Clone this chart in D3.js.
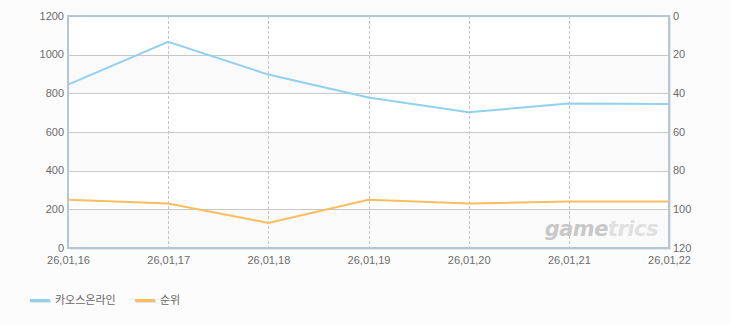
<!DOCTYPE html>
<html lang="ko">
<head>
<meta charset="UTF-8">
<script src="https://cdnjs.cloudflare.com/ajax/libs/d3/7.8.5/d3.min.js"></script>
<style>
  html, body { margin: 0; padding: 0; background: #fcfcfc; }
  svg { display: block; font-family: "Liberation Sans", "Noto Sans CJK KR", sans-serif; }
</style>
</head>
<body>
<div id="chart"></div>
<script>
// data
var dates = ["26,01,16", "26,01,17", "26,01,18", "26,01,19", "26,01,20", "26,01,21", "26,01,22"];
var users = [845, 1067, 897, 778, 702, 747, 745];
var ranks = [95, 97, 107, 95, 97, 96, 96];
var leftTicks = [0, 200, 400, 600, 800, 1000, 1200];
var rightTicks = [0, 20, 40, 60, 80, 100, 120];
var seriesNames = ["카오스온라인", "순위"];
var seriesColors = ["#92d0f0", "#fbbd5e"];

var W = 730, H = 325;
var margin = {top: 16, right: 61, bottom: 77, left: 68};
var w = W - margin.left - margin.right;
var h = H - margin.top - margin.bottom;

var svg = d3.select("#chart").append("svg")
  .attr("width", W).attr("height", H);

var g = svg.append("g")
  .attr("transform", "translate(" + margin.left + "," + margin.top + ")");

var x = d3.scalePoint().domain(dates).range([0, w]);
var yL = d3.scaleLinear().domain([0, 1200]).range([h, 0]);
var yR = d3.scaleLinear().domain([0, 120]).range([0, h]);

// shadow
g.append("rect")
  .attr("x", 2).attr("y", 2).attr("width", w).attr("height", h)
  .style("fill", "#e6e6e6");

// plot background
g.append("rect")
  .attr("width", w).attr("height", h)
  .style("fill", "#ffffff");

// alternating bands
for (var i = 0; i < leftTicks.length - 1; i++) {
  if (i % 2 == 0) {
    g.append("rect")
      .attr("x", 0).attr("width", w)
      .attr("y", yL(leftTicks[i + 1]))
      .attr("height", yL(leftTicks[i]) - yL(leftTicks[i + 1]))
      .style("fill", "#fafafa");
  }
}

// horizontal grid
g.selectAll(".hgrid").data(leftTicks.slice(1, -1)).enter()
  .append("line")
  .attr("x1", 0).attr("x2", w)
  .attr("y1", d => Math.round(yL(d)) + 0.5).attr("y2", d => Math.round(yL(d)) + 0.5)
  .style("stroke", "#c8c8c8").style("stroke-width", 1);

// vertical dashed grid
g.selectAll(".vgrid").data(dates.slice(1, -1)).enter()
  .append("line")
  .attr("x1", d => Math.round(x(d)) + 0.5).attr("x2", d => Math.round(x(d)) + 0.5)
  .attr("y1", 0).attr("y2", h)
  .style("stroke", "#c4c4c4").style("stroke-dasharray", "3,2");

// watermark
var wm = g.append("text")
  .attr("x", x(dates[6]) - 11).attr("y", yL(0) - 12)
  .attr("text-anchor", "end")
  .style("font-family", "'DejaVu Sans', sans-serif")
  .style("font-size", "21px").style("font-weight", "bold").style("font-style", "italic")
  .style("letter-spacing", "-0.5px");
wm.append("tspan").style("fill", "#c8c8c8").text("game");
wm.append("tspan").style("fill", "#e0e0e0").text("trics");

// lines
var lineL = d3.line().x((d, i) => x(dates[i])).y(d => yL(d));
var lineR = d3.line().x((d, i) => x(dates[i])).y(d => yR(d));

g.append("path").datum(users)
  .attr("d", lineL)
  .style("fill", "none").style("stroke", seriesColors[0]).style("stroke-width", 2);

g.append("path").datum(ranks)
  .attr("d", lineR)
  .style("fill", "none").style("stroke", seriesColors[1]).style("stroke-width", 2);

// border
g.append("rect")
  .attr("x", 0).attr("y", 0).attr("width", w).attr("height", h)
  .style("fill", "none").style("stroke", "#b3c6da").style("stroke-width", 2);

// axes
var axL = g.append("g")
  .call(d3.axisLeft(yL).tickValues(leftTicks).tickFormat(d3.format("d")).tickSize(0).tickPadding(4));
var axR = g.append("g")
  .attr("transform", "translate(" + w + ",0)")
  .call(d3.axisRight(yR).tickValues(rightTicks).tickFormat(d3.format("d")).tickSize(0).tickPadding(4));
var axB = g.append("g")
  .attr("transform", "translate(0," + h + ")")
  .call(d3.axisBottom(x).tickSize(0).tickPadding(8));

[axL, axR, axB].forEach(function(a) {
  a.select(".domain").remove();
  a.selectAll("text")
    .style("font-family", "'Liberation Sans', sans-serif")
    .style("font-size", "11px").style("fill", "#6b6b6b");
});
axL.selectAll("text").attr("dy", "0.3em");
axR.selectAll("text").attr("dy", "0.3em");

// legend
var legend = svg.append("g").attr("transform", "translate(30,300)");
var lx = [0, 105];
seriesNames.forEach(function(name, i) {
  var item = legend.append("g").attr("transform", "translate(" + lx[i] + ",0)");
  item.append("rect")
    .attr("x", 1).attr("y", 0).attr("width", 20).attr("height", 3)
    .style("fill", "#e4e4e4");
  item.append("rect")
    .attr("x", 0).attr("y", -1).attr("width", 20).attr("height", 3)
    .style("fill", seriesColors[i]);
  item.append("text")
    .attr("x", 25).attr("y", 0).attr("dy", "0.38em")
    .style("font-family", "'Noto Sans CJK KR', sans-serif")
    .style("font-size", "11px").style("fill", "#666")
    .text(name);
});
</script>
</body>
</html>
